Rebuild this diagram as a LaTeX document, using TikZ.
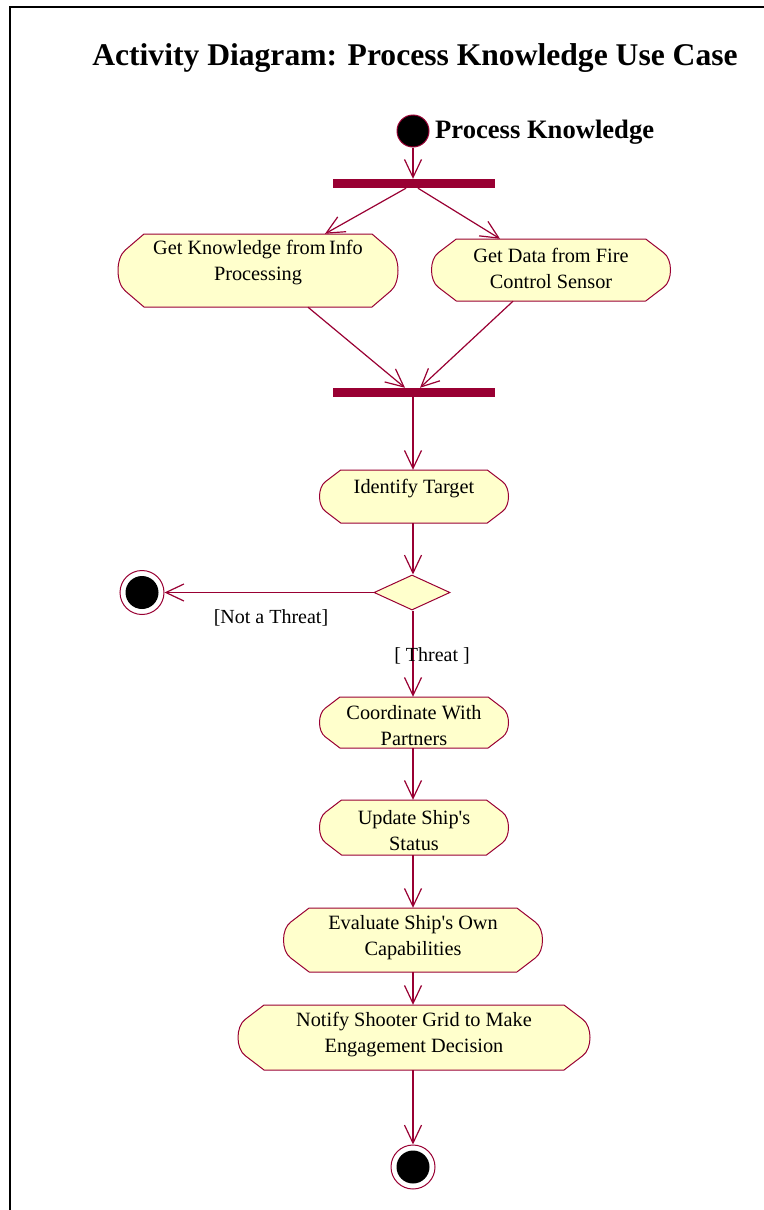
\documentclass[tikz,border=0pt]{standalone}
\usepackage{fontspec}
\setmainfont{Liberation Serif}
\usetikzlibrary{arrows.meta,shapes.geometric,calc}

\definecolor{rosered}{RGB}{153,0,51}
\definecolor{rosefill}{RGB}{255,255,204}

\tikzset{
  flow/.style={draw=rosered, line width=1.2pt, -{Straight Barb[length=18pt,width=17pt,line width=1.2pt]}},
  actshape/.style={draw=none, fill=none, rectangle, inner sep=0pt},
  actoutline/.style={draw=rosered, fill=rosefill, line width=1pt, line join=round},
  acttext/.style={align=center, inner sep=0pt, font=\fontsize{20.3}{26}\selectfont},
  syncbar/.style={rectangle, fill=rosered, draw=none, inner sep=0pt, minimum width=162pt, minimum height=9pt},
  startstate/.style={circle, fill=black, draw=rosered, line width=1pt, inner sep=0pt, minimum size=32pt},
  endstate/.style={circle, fill=white, draw=rosered, line width=1pt, inner sep=0pt, minimum size=44pt,
    path picture={\fill[black] (path picture bounding box.center) circle (16.5pt);}},
  decision/.style={diamond, draw=rosered, fill=rosefill, line width=1pt, inner sep=0pt, aspect=2.17,
    minimum width=76pt, minimum height=35pt},
  guard/.style={inner sep=0pt, font=\fontsize{20}{24}\selectfont},
}

% activity state: name, x, y, width, height, text offset, text
\newcommand\activity[7]{%
  \pgfmathsetmacro\chx{min(26,0.4*#5)}%
  \pgfmathsetmacro\lx{#2-#4/2}%
  \pgfmathsetmacro\rx{#2+#4/2}%
  \pgfmathsetmacro\ty{#3-#5/2}%
  \pgfmathsetmacro\by{#3+#5/2}%
  \node[actshape, minimum width=#4pt, minimum height=#5pt] (#1) at (#2,#3) {};
  \path[actoutline]
    (\lx+\chx, \ty) -- (\rx-\chx, \ty)
    -- (\rx-0.28*\chx, \ty+0.22*#5)
    .. controls (\rx+0.0933*\chx, \ty+0.33*#5) and (\rx+0.0933*\chx, \by-0.33*#5) ..
       (\rx-0.28*\chx, \by-0.22*#5)
    -- (\rx-\chx, \by) -- (\lx+\chx, \by)
    -- (\lx+0.28*\chx, \by-0.22*#5)
    .. controls (\lx-0.0933*\chx, \by-0.33*#5) and (\lx-0.0933*\chx, \ty+0.33*#5) ..
       (\lx+0.28*\chx, \ty+0.22*#5)
    -- cycle;
  \node[acttext] (#1-text) at ($(#1.center)+(0,#6)$) {#7};
}

\begin{document}
\begin{tikzpicture}[x=1pt, y=-1pt]
\useasboundingbox (0,0) rectangle (763,1210);

% frame
\draw[line width=2pt, black] (10,1215) -- (10,7) -- (768,7);

% title
\node[font=\bfseries\fontsize{31.6}{36}\selectfont, inner sep=0pt] (title) at (415,58)
  {Activity Diagram: Process Knowledge Use Case};

% start
\node[startstate] (start) at (413,131) {};
\node[anchor=west, inner sep=0pt, font=\bfseries\fontsize{26.6}{30}\selectfont] (startlabel) at (435,132) {Process Knowledge};

% fork and join bars
\node[syncbar] (fork) at (414,183.5) {};
\node[syncbar] (join) at (414,392.5) {};

% activities
\activity{info}{258}{270.5}{280}{73}{-8}{Get Knowledge from\,Info\\Processing}
\activity{sensor}{551}{270}{239}{62}{-2}{Get Data from Fire\\Control Sensor}
\activity{ident}{414}{496.5}{189}{53}{-8}{Identify Target}
\activity{coord}{414}{722.5}{189}{51}{3}{Coordinate With\\Partners}
\activity{update}{414}{827.5}{189}{55}{3}{Update Ship\textquotesingle s\\Status}
\activity{eval}{413}{940}{259}{64}{-2}{Evaluate Ship\textquotesingle s Own\\Capabilities}
\activity{notify}{414}{1037.5}{352}{65}{-3}{Notify Shooter Grid to Make\\Engagement Decision}

% decision and final states
\node[decision] (dec) at (412,592.5) {};
\node[endstate] (endA) at (142,592.5) {};
\node[endstate] (endB) at (413,1167) {};

% connectors
\draw[flow] (start.south) -- (start.south |- fork.north);
\draw[flow] ($(fork.south)+(-8,0)$) -- ($(info.north)+(67,0)$);
\draw[flow] ($(fork.south)+(4,0)$) -- ($(sensor.north)+(-51,0)$);
\draw[flow] ($(info.south)+(50,0)$) -- ($(join.north)+(-9,0)$);
\draw[flow] ($(sensor.south)+(-38,0)$) -- ($(join.north)+(6,0)$);
\draw[flow] (join.south -| 413,0) -- (ident.north -| 413,0);
\draw[flow] (ident.south -| 413,0) -- (dec.north -| 413,0);
\draw[flow] (dec.west) -- (endA.east);
\node[guard] (notthreat) at (271,618) {[Not a Threat]};
\draw[flow] (dec.south -| 413,0) -- (coord.north -| 413,0);
\node[guard] (threat) at (432,656) {[ Threat ]};
\draw[flow] (coord.south -| 413,0) -- (update.north -| 413,0);
\draw[flow] (update.south -| 413,0) -- (eval.north -| 413,0);
\draw[flow] (eval.south -| 413,0) -- (notify.north -| 413,0);
\draw[flow] (notify.south -| 413,0) -- (endB.north);
\end{tikzpicture}
\end{document}
